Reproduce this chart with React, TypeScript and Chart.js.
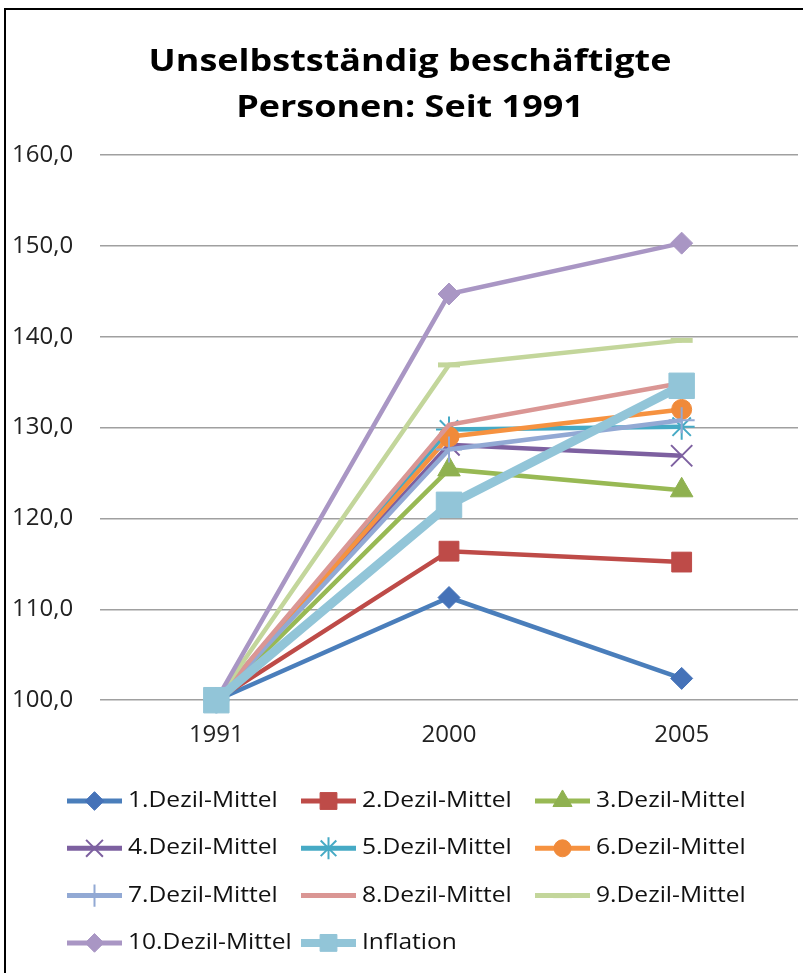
import React, { useEffect, useRef } from "react";
import { Chart, registerables } from "chart.js";
import { drawPoint } from "chart.js/helpers";

Chart.register(...registerables);

const titleLines = ["Unselbstständig beschäftigte", "Personen: Seit 1991"];
const categories = ["1991", "2000", "2005"];
const seriesNames = [
  "1.Dezil-Mittel",
  "2.Dezil-Mittel",
  "3.Dezil-Mittel",
  "4.Dezil-Mittel",
  "5.Dezil-Mittel",
  "6.Dezil-Mittel",
  "7.Dezil-Mittel",
  "8.Dezil-Mittel",
  "9.Dezil-Mittel",
  "10.Dezil-Mittel",
  "Inflation",
];
const d1 = [100, 111.3, 102.4];
const d2 = [100, 116.4, 115.2];
const d3 = [100, 125.4, 123.1];
const d4 = [100, 128.1, 126.9];
const d5 = [100, 129.8, 130.1];
const d6 = [100, 129.0, 132.0];
const d7 = [100, 127.6, 130.8];
const d8 = [100, 130.3, 134.9];
const d9 = [100, 136.9, 139.6];
const d10 = [100, 144.7, 150.3];
const inflation = [100, 121.5, 134.6];
const seriesValues = [d1, d2, d3, d4, d5, d6, d7, d8, d9, d10, inflation];
const yTicks = [100, 110, 120, 130, 140, 150, 160];

const lineColors = ["#4A7EBB", "#BE4B48", "#98B954", "#7D60A0", "#46AAC5", "#F69240", "#92A9D4", "#DA9694", "#C3D69B", "#A996C4", "#92C5D8"];
const markerColors = ["#4572B8", "#BE4B48", "#8FB150", "#7D60A0", "#46AAC5", "#F08A3A", "#92A9D4", "#DA9694", "#C3D69B", "#A996C4", "#92C5D8"];
const pointStyles: any[] = ["rectRot", "rect", "triangle", "crossRot", "star", "circle", "cross", false, "line", "rectRot", "rect"];
const pointRadii = [11, 14, 13, 15, 13, 10, 13, 0, 11, 11, 18];
const lineWidths = [4.5, 4.5, 4.5, 4.5, 4.5, 4.5, 4.5, 4.5, 4.5, 4.5, 9];

const FONT = "'Open Sans', 'DejaVu Sans', sans-serif";

const titlePlugin = {
  id: "wideTitle",
  afterDraw(chart: any) {
    const ctx = chart.ctx;
    ctx.save();
    ctx.fillStyle = "#000";
    ctx.font = `bold 31px ${FONT}`;
    ctx.textAlign = "center";
    ctx.textBaseline = "alphabetic";
    const sx = 1.16;
    const cx = 410;
    const baselines = [71, 117];
    titleLines.forEach((t, i) => {
      ctx.save();
      ctx.translate(cx, baselines[i]);
      ctx.scale(sx, 1);
      ctx.fillText(t, 0, 0);
      ctx.restore();
    });
    ctx.restore();
  },
};

const legendPlugin = {
  id: "gridLegend",
  afterDraw(chart: any) {
    const ctx = chart.ctx;
    ctx.save();
    chart.data.datasets.forEach((ds: any, i: number) => {
      const col = i % 3;
      const row = Math.floor(i / 3);
      const x0 = 67 + col * 234;
      const y = 801 + row * 47.3;
      ctx.strokeStyle = ds.borderColor;
      ctx.lineWidth = ds.borderWidth === 9 ? 8 : 5;
      ctx.lineCap = "butt";
      ctx.beginPath();
      ctx.moveTo(x0, y);
      ctx.lineTo(x0 + 55, y);
      ctx.stroke();
      if (ds.pointStyle && ds.pointRadius > 0) {
        ctx.fillStyle = ds.pointBackgroundColor;
        ctx.strokeStyle = ds.pointBorderColor;
        ctx.lineWidth = ds.pointBorderWidth;
        drawPoint(ctx, { pointStyle: ds.pointStyle, radius: Math.min(ds.pointRadius, 14) * 0.85, rotation: 0, borderWidth: ds.pointBorderWidth }, x0 + 27.5, y);
      }
      ctx.fillStyle = "#111";
      ctx.font = `21px ${FONT}`;
      ctx.textBaseline = "middle";
      ctx.textAlign = "left";
      ctx.save();
      ctx.translate(x0 + 61, y);
      ctx.scale(1.17, 1);
      ctx.fillText(ds.label, 0, 0);
      ctx.restore();
    });
    ctx.restore();
  },
};

export default function App() {
  const ref = useRef<HTMLCanvasElement | null>(null);
  useEffect(() => {
    if (!ref.current) return;
    const datasets = seriesValues.map((vals, i) => {
      const strokeOnly = ["crossRot", "star", "cross", "line"].includes(pointStyles[i]);
      return {
        label: seriesNames[i],
        data: vals,
        borderColor: lineColors[i],
        backgroundColor: lineColors[i],
        borderWidth: lineWidths[i],
        pointStyle: pointStyles[i],
        pointRadius: pointRadii[i],
        pointHoverRadius: pointRadii[i],
        pointBackgroundColor: markerColors[i],
        pointBorderColor: markerColors[i],
        pointBorderWidth: strokeOnly ? (pointStyles[i] === "line" ? 5 : 2) : 1,
        tension: 0,
        fill: false,
        clip: false,
        order: seriesValues.length - i,
      };
    });
    const chart = new Chart(ref.current, {
      type: "line",
      data: { labels: categories, datasets },
      plugins: [titlePlugin, legendPlugin],
      options: {
        animation: false,
        responsive: false,
        layout: { autoPadding: false, padding: { left: 12, right: 5, top: 155, bottom: 202 } },
        plugins: {
          legend: { display: false },
          tooltip: { enabled: false },
          title: { display: false },
        },
        scales: {
          x: {
            type: "category",
            offset: true,
            afterFit(scale: any) {
              scale.paddingLeft = 0;
              scale.paddingRight = 0;
            },
            grid: { display: false, drawTicks: false },
            border: { display: false },
            ticks: { font: { family: FONT, size: 24 }, color: "#222", padding: 21 },
          },
          y: {
            min: 100,
            max: 160,
            afterFit(scale: any) {
              scale.width = 88;
            },
            afterBuildTicks(scale: any) {
              scale.ticks = yTicks.map((v) => ({ value: v }));
            },
            grid: { color: "#a0a0a0", lineWidth: 1.5, drawTicks: false },
            border: { display: false },
            ticks: {
              font: { family: FONT, size: 24 },
              color: "#222",
              crossAlign: "far",
              padding: 0,
              callback: (v: any) => Number(v).toFixed(1).replace(".", ","),
            },
          },
        },
      },
    });
    return () => chart.destroy();
  }, []);
  return (
    <div>
      <div
        style={{
          position: "fixed",
          left: 4,
          top: 8,
          width: 830,
          height: 1000,
          border: "2px solid #000",
          boxSizing: "border-box",
        }}
      />
      <canvas
        ref={ref}
        width={803}
        height={973}
        style={{ position: "fixed", left: 0, top: 0, width: 803, height: 973 }}
      />
    </div>
  );
}
